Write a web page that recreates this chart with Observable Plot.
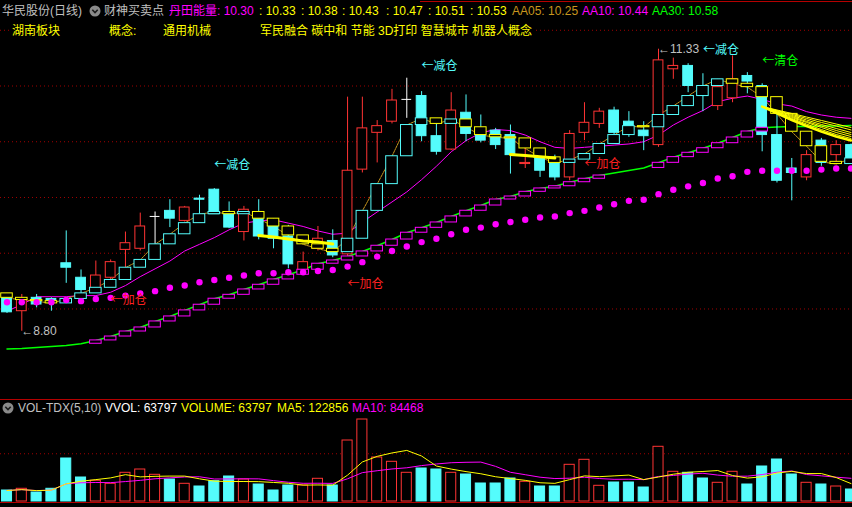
<!DOCTYPE html>
<html><head><meta charset="utf-8">
<script src="https://cdn.jsdelivr.net/npm/d3@7"></script>
<script src="https://cdn.jsdelivr.net/npm/@observablehq/plot@0.6"></script>
<style>
html,body{margin:0;padding:0;background:#000;}
#wrap{position:relative;width:852px;height:507px;overflow:hidden;background:#000;font-family:"Liberation Sans","Noto Sans CJK SC",sans-serif;font-size:12px;}
#wrap svg{display:block;}
.t{position:absolute;white-space:nowrap;line-height:14px;font-size:12px;}
.pl{position:absolute;left:0;}
.hr{position:absolute;height:1px;background:#b40000;}
</style></head>
<body><div id="wrap"></div>
<script>
// ---------- data ----------
const open  = [9.10,8.98,9.10,9.09,9.41,9.28,9.17,9.28,9.53,9.54,9.83,9.88,9.79,9.99,10.07,9.87,9.69,9.81,9.75,9.65,9.35,9.54,9.61,9.49,10.25,10.58,10.68,10.88,10.91,10.55,10.43,10.76,10.60,10.60,10.56,10.30,10.38,10.35,10.18,10.58,10.66,10.78,10.68,10.60,10.47,11.15,11.18,11.00,10.82,10.89,11.09,11.00,10.56,10.26,10.18,10.51,10.38,10.47];
const high  = [9.11,9.13,9.13,9.10,9.70,9.35,9.43,9.44,9.69,9.86,9.87,9.98,9.92,10.02,10.08,9.96,9.92,9.98,9.81,9.75,9.51,9.74,9.71,10.90,10.90,10.69,10.97,11.07,10.95,10.66,10.94,10.92,10.74,10.62,10.65,10.45,10.39,10.38,10.60,10.85,10.80,10.81,10.77,10.68,11.33,11.25,11.20,11.11,11.03,11.27,11.12,11.02,10.75,10.35,10.42,10.53,10.51,10.48];
const low   = [8.96,8.80,9.01,8.98,9.23,9.12,9.16,9.26,9.37,9.52,9.58,9.73,9.78,9.85,9.85,9.72,9.61,9.62,9.54,9.36,9.34,9.52,9.46,9.47,10.22,10.31,10.66,10.71,10.50,10.38,10.42,10.50,10.49,10.43,10.21,10.26,10.18,10.15,10.15,10.51,10.62,10.56,10.54,10.42,10.45,11.06,10.94,10.77,10.78,10.85,10.93,10.41,10.13,9.97,10.15,10.28,10.30,10.33];
const close = [8.97,9.09,9.04,9.06,9.37,9.17,9.30,9.42,9.59,9.74,9.83,9.81,9.91,9.98,9.85,9.73,9.89,9.65,9.63,9.40,9.42,9.63,9.48,10.24,10.62,10.64,10.87,10.88,10.55,10.41,10.78,10.57,10.51,10.47,10.38,10.31,10.24,10.18,10.57,10.67,10.77,10.58,10.63,10.55,11.23,11.18,11.00,10.91,10.99,11.06,11.04,10.56,10.15,10.22,10.38,10.31,10.47,10.35];
const volume = [58500,67600,47900,67600,228800,127700,110100,94200,152700,170200,142000,117000,94200,79800,108000,133000,117000,90400,58500,85100,85100,120800,85100,324500,436200,234100,211200,152700,175600,170200,152700,143600,95800,95800,122400,104800,79800,79800,195200,221800,83500,101100,101100,74500,291000,158000,152700,122400,99500,158000,90400,186200,223400,143600,99500,90400,79800,63797];
const aa05Prev = 9.14;
const aa05 = [9.10,9.08,9.07,9.05,9.09,9.14,9.19,9.26,9.37,9.44,9.58,9.67,9.77,9.85,9.87,9.85,9.87,9.81,9.74,9.66,9.58,9.54,9.51,9.63,9.88,10.12,10.37,10.65,10.71,10.66,10.70,10.63,10.56,10.54,10.53,10.44,10.36,10.31,10.34,10.39,10.48,10.56,10.64,10.63,10.74,10.82,10.91,11.00,11.06,11.02,10.99,10.90,10.75,10.59,10.46,10.32,10.30,10.35];
const aa10 = [8.98,9.04,9.11,9.11,9.11,9.12,9.12,9.15,9.21,9.29,9.36,9.43,9.52,9.58,9.64,9.71,9.77,9.79,9.80,9.77,9.74,9.70,9.67,9.68,9.78,9.87,9.96,10.05,10.16,10.28,10.41,10.51,10.58,10.61,10.60,10.56,10.50,10.45,10.44,10.45,10.46,10.47,10.48,10.50,10.56,10.65,10.72,10.78,10.86,10.89,10.91,10.88,10.84,10.82,10.77,10.74,10.72,10.71];
const aa30 = [8.641,8.646,8.655,8.664,8.673,8.688,8.718,8.753,8.798,8.834,8.888,8.933,8.987,9.038,9.092,9.127,9.175,9.217,9.265,9.307,9.352,9.406,9.435,9.471,9.516,9.567,9.623,9.684,9.728,9.776,9.830,9.881,9.928,9.982,10.009,10.051,10.081,10.101,10.137,10.168,10.197,10.220,10.242,10.265,10.311,10.362,10.401,10.442,10.487,10.538,10.592,10.625,10.632,10.637,10.637,10.641,10.641,10.646];
const aa30Box = [0,0,0,0,0,0,1,1,1,1,1,1,1,1,1,1,1,1,1,1,1,1,1,1,1,1,1,1,1,1,1,1,1,1,1,1,1,1,1,1,1,0,0,0,1,1,1,1,1,1,1,1,0,0,0,0,0,0];
const sar = [9.06,9.06,9.06,9.06,9.08,9.07,9.09,9.10,9.12,9.14,9.16,9.19,9.21,9.24,9.26,9.28,9.30,9.32,9.32,9.33,9.33,9.34,9.35,9.38,9.42,9.47,9.52,9.56,9.60,9.63,9.67,9.71,9.73,9.76,9.78,9.80,9.82,9.83,9.86,9.88,9.91,9.94,9.97,9.98,10.03,10.07,10.10,10.13,10.17,10.19,10.23,10.24,10.24,10.24,10.24,10.25,10.26,10.26];
// 丹田能量 lines: converged bands and the final fan
const bandIdx = [17,18,19,20,21,22,34,35,36,37];
const bandSeg = [1,1,1,1,1,1,2,2,2,2];
const bandVal = [9.659,9.646,9.628,9.610,9.601,9.583,10.386,10.377,10.365,10.354];
const fanIdx = [51,52,53,54,55,56,57];
const fan1 = [10.816,10.785,10.754,10.722,10.691,10.659,10.628];
const fan2 = [10.816,10.780,10.745,10.709,10.673,10.641,10.606];
const fan3 = [10.816,10.776,10.736,10.695,10.655,10.619,10.583];
const fan4 = [10.816,10.771,10.727,10.682,10.641,10.601,10.565];
const fan5 = [10.816,10.767,10.718,10.673,10.628,10.583,10.547];
const fan6 = [10.816,10.762,10.709,10.659,10.610,10.565,10.529];
const fan7 = [10.816,10.754,10.695,10.641,10.592,10.547,10.511];
// signals
const sigIdx   = [7,14,23,28,39,47,51];
const sigText  = ["←加仓","←减仓","←加仓","←减仓","←加仓","←减仓","←清仓"];
const sigPrice = [9.08,10.29,9.22,11.18,10.30,11.32,11.22];
// grid ticks
const priceTicks = [9.0,9.5,10.0,10.5,11.0,11.5];
const volTicks = [254000];
// header texts
const header1 = [
  {t:"华民股份(日线)", x:2, c:"#c0c0c0"},
  {t:"财神买卖点", x:104, c:"#c0c0c0"},
  {t:"丹田能量: 10.30", x:169, c:"#ff00ff"},
  {t:": 10.33", x:259, c:"#ffff00"},
  {t:": 10.38", x:301, c:"#ffff00"},
  {t:": 10.43", x:342, c:"#ffff00"},
  {t:": 10.47", x:386, c:"#ffff00"},
  {t:": 10.51", x:428, c:"#ffff00"},
  {t:": 10.53", x:470, c:"#ffff00"},
  {t:"AA05: 10.25", x:512, c:"#c8961e"},
  {t:"AA10: 10.44", x:582, c:"#ff00ff"},
  {t:"AA30: 10.58", x:652, c:"#00ff00"}
];
const header2 = [
  {t:"湖南板块", x:12},
  {t:"概念:", x:109},
  {t:"通用机械", x:163},
  {t:"军民融合 碳中和 节能 3D打印 智慧城市 机器人概念", x:260}
];
const volHeader = [
  {t:"VOL-TDX(5,10)", x:18, c:"#c0c0c0"},
  {t:"VVOL: 63797", x:105, c:"#ffffff"},
  {t:"VOLUME: 63797", x:181, c:"#ffff00"},
  {t:"MA5: 122856", x:277, c:"#ffff00"},
  {t:"MA10: 84468", x:352, c:"#ff00ff"}
];

// ---------- build ----------
const RED = "#ff3434", CYAN = "#54fcfc", YEL = "#ffff00", MAG = "#ff00ff", GRN = "#00ff00", ORG = "#c8961e";
const rows = open.map((o, i) => ({
  i, open: o, high: high[i], low: low[i], close: close[i], vol: volume[i],
  aa05: aa05[i], aa05p: i ? aa05[i-1] : aa05Prev,
  aa10: aa10[i], aa30: aa30[i], aa30p: i ? aa30[i-1] : aa30[i], box30: aa30Box[i], sar: sar[i]
}));
const ups = rows.filter(d => d.close > d.open);
const downs = rows.filter(d => d.close < d.open);
const dojis = rows.filter(d => d.close === d.open);
const candleColor = d => d.close > d.open ? RED : d.close < d.open ? CYAN : "#ffffff";
const bandRows = bandIdx.map((ix, j) => ({i: ix, v: bandVal[j], seg: bandSeg[j]}));
const fanThin = [fan1,fan2,fan3,fan4,fan5,fan6];
const fanRows = fanIdx.flatMap((ix, j) => fanThin.map((arr, k) => ({i: ix, v: arr[j], k})));
const fanBottom = fanIdx.map((ix, j) => ({i: ix, v: fan7[j]}));
const sigRows = sigIdx.map((ix, j) => ({i: ix, y: sigPrice[j], text: sigText[j],
  color: sigText[j].includes("加") ? "#ff2020" : sigText[j].includes("减") ? CYAN : GRN}));
const iLow = d3.minIndex(low), iHigh = d3.maxIndex(high);
const extremes = [
  {i: iLow, y: low[iLow], text: "←" + low[iLow].toFixed(2), dy: 1},
  {i: iHigh, y: high[iHigh], text: "←" + high[iHigh].toFixed(2), dy: 4}
];

const xScale = {type: "linear", domain: [-0.439, 57.101], axis: null};
const HB = 0.33, HBOX = 0.39;

const main = Plot.plot({
  width: 852, height: 399, marginTop: 0, marginBottom: 0, marginLeft: 0, marginRight: 0,
  x: xScale,
  y: {domain: [8.188, 11.767], axis: null},
  color: {type: "identity"},
  style: {background: "transparent", overflow: "visible"},
  marks: [
    Plot.ruleY(priceTicks, {stroke: "#a00000", strokeDasharray: "1,3"}),
    Plot.line(rows, {x: "i", y: "aa30", stroke: GRN, strokeWidth: 1.5}),
    Plot.line(rows, {x: "i", y: "aa10", stroke: MAG, strokeWidth: 1}),
    Plot.line(rows, {x: "i", y: "aa05", stroke: ORG, strokeWidth: 1, strokeDasharray: "2,1"}),
    Plot.ruleX(rows, {x: "i", y1: "low", y2: "high", stroke: candleColor}),
    Plot.rect(ups, {x1: d => d.i - HB, x2: d => d.i + HB, y1: "open", y2: "close", fill: "#000", stroke: RED}),
    Plot.rect(downs, {x1: d => d.i - HB, x2: d => d.i + HB, y1: "open", y2: "close", fill: CYAN, stroke: CYAN}),
    Plot.ruleY(dojis, {y: "close", x1: d => d.i - HB, x2: d => d.i + HB, stroke: "#ffffff"}),
    Plot.rect(rows, {x1: d => d.i - HBOX, x2: d => d.i + HBOX, y1: "aa05p", y2: "aa05", fill: "#000",
      stroke: d => d.aa05 >= d.aa05p ? CYAN : YEL}),
    Plot.rect(rows.filter(d => d.box30), {x1: d => d.i - HBOX, x2: d => d.i + HBOX, y1: "aa30p", y2: "aa30", fill: "#000", stroke: MAG}),
    Plot.line(bandRows, {x: "i", y: "v", z: "seg", stroke: YEL, strokeWidth: 3}),
    Plot.line(fanRows, {x: "i", y: "v", z: "k", stroke: YEL, strokeWidth: 1}),
    Plot.line(fanBottom, {x: "i", y: "v", stroke: YEL, strokeWidth: 2.5}),
    Plot.dot(rows, {x: "i", y: "sar", r: 3.2, fill: MAG}),
    Plot.text(sigRows, {x: "i", y: "y", text: "text", fill: "color", textAnchor: "start", fontSize: 12,
      fontFamily: "'Noto Sans CJK SC', sans-serif"}),
    Plot.text(extremes, {x: "i", y: "y", text: "text", dy: "dy", fill: "#c0c0c0", textAnchor: "start", fontSize: 12,
      fontFamily: "'Liberation Sans', 'DejaVu Sans', sans-serif"})
  ]
});

const vol = Plot.plot({
  width: 852, height: 108, marginTop: 0, marginBottom: 6, marginLeft: 0, marginRight: 0,
  x: xScale,
  y: {domain: [0, 542640], axis: null},
  color: {type: "identity"},
  style: {background: "transparent", overflow: "visible"},
  marks: [
    Plot.ruleY(volTicks, {stroke: "#a00000", strokeDasharray: "1,3"}),
    Plot.rect(rows, {x1: d => d.i - 0.34, x2: d => d.i + 0.34, y1: 0, y2: "vol",
      fill: d => d.close >= d.open ? "#000" : CYAN, stroke: d => d.close >= d.open ? RED : CYAN}),
    Plot.lineY(rows, Plot.windowY({k: 10, anchor: "end"}, {x: "i", y: "vol", stroke: MAG, strokeWidth: 1})),
    Plot.lineY(rows, Plot.windowY({k: 5, anchor: "end"}, {x: "i", y: "vol", stroke: YEL, strokeWidth: 1}))
  ]
});

// ---------- layout ----------
const wrap = document.getElementById("wrap");
const m = document.createElement("div"); m.className = "pl"; m.style.top = "0px"; m.appendChild(main); wrap.appendChild(m);
const v = document.createElement("div"); v.className = "pl"; v.style.top = "399px"; v.appendChild(vol); wrap.appendChild(v);

function hr(x, y, w) { const d = document.createElement("div"); d.className = "hr"; d.style.left = x + "px"; d.style.top = y + "px"; d.style.width = w + "px"; wrap.appendChild(d); }
hr(420, 1, 432); hr(0, 399, 852); hr(0, 502, 852);

function icon(x, y) {
  const d = document.createElement("div");
  d.style.cssText = `position:absolute;left:${x}px;top:${y}px;width:12px;height:12px;`;
  d.innerHTML = '<svg width="12" height="12"><circle cx="6" cy="6" r="5.5" fill="#8a8a8a"/><path d="M3.3 4.8 L6 7.5 L8.7 4.8" stroke="#1a1a1a" stroke-width="1.6" fill="none"/></svg>';
  wrap.appendChild(d);
}
function txt(s, x, y, c, bg) {
  const d = document.createElement("div"); d.className = "t";
  d.style.left = x + "px"; d.style.top = y + "px"; d.style.color = c;
  if (bg) d.style.background = bg;
  d.textContent = s; wrap.appendChild(d);
}
// black strip behind second header line
const strip = document.createElement("div");
strip.style.cssText = "position:absolute;left:9px;top:24px;width:525px;height:14px;background:#000;";
wrap.appendChild(strip);
header1.forEach(h => txt(h.t, h.x, 4, h.c));
icon(89, 5);
header2.forEach(h => txt(h.t, h.x, 24, "#ffff00"));
icon(2, 402);
volHeader.forEach(h => txt(h.t, h.x, 401, h.c));
</script>
</body></html>
